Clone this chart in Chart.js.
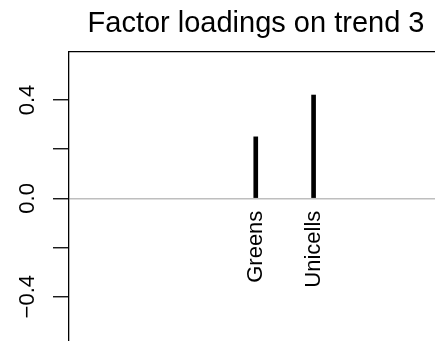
<!DOCTYPE html>
<html lang="en">
<head>
    <meta charset="UTF-8">
    <title>Factor loadings on trend 3</title>
    <style>
        html, body { margin: 0; padding: 0; background: #fff; }
        #wrap { width: 435px; height: 341px; position: relative; }
    </style>
    <script src="https://cdn.jsdelivr.net/npm/chart.js"></script>
</head>
<body>
    <div id="wrap"><canvas id="viz"></canvas></div>
    <script>
        // loadings that pass the cutoff, with their position among the series
        const names = ['Greens', 'Unicells']
        const positions = [3, 4]
        const loadings = [0.25, 0.42]

        const yTickValues = [-0.4, -0.2, 0, 0.2, 0.4]
        const yTickLabels = ['\u22120.4', '', '0.0', '', '0.4']

        const plotTitle = 'Factor loadings on trend 3'
        const fontFamily = '"Liberation Sans", Arial, Helvetica, sans-serif'

        // rotated names under the bars, rotated y labels, and the title
        const textLayer = {
            id: 'textLayer',
            afterDraw(chart) {
                const { ctx, scales: { x, y } } = chart
                ctx.save()
                ctx.fillStyle = '#000'

                ctx.font = `29px ${fontFamily}`
                ctx.textAlign = 'center'
                ctx.textBaseline = 'alphabetic'
                ctx.fillText(plotTitle, 256, 32)

                ctx.font = `22px ${fontFamily}`
                names.forEach((name, i) => {
                    ctx.save()
                    ctx.translate(x.getPixelForValue(positions[i]), y.getPixelForValue(-0.05))
                    ctx.rotate(-Math.PI / 2)
                    ctx.textAlign = 'right'
                    ctx.textBaseline = 'middle'
                    ctx.fillText(name, 0, 0)
                    ctx.restore()
                })

                yTickValues.forEach((v, i) => {
                    if (!yTickLabels[i]) return
                    ctx.save()
                    ctx.translate(33.5, y.getPixelForValue(v))
                    ctx.rotate(-Math.PI / 2)
                    ctx.textAlign = 'center'
                    ctx.textBaseline = 'alphabetic'
                    ctx.fillText(yTickLabels[i], 0, 0)
                    ctx.restore()
                })
                ctx.restore()
            }
        }

        const chart = new Chart(document.getElementById('viz'), {
            type: 'bar',
            data: {
                datasets: [{
                    data: positions.map((p, i) => ({ x: p, y: loadings[i] })),
                    backgroundColor: '#000',
                    borderWidth: 0,
                    barThickness: 4
                }]
            },
            options: {
                responsive: true,
                maintainAspectRatio: false,
                animation: false,
                events: [],
                layout: { padding: { top: 52, left: 53, right: 0, bottom: 0 } },
                plugins: {
                    legend: { display: false },
                    tooltip: { enabled: false },
                    title: { display: false }
                },
                scales: {
                    x: {
                        type: 'linear',
                        position: 'top',
                        min: -0.23,
                        max: 6.1,
                        offset: false,
                        grid: { display: false, drawTicks: false },
                        ticks: { display: false },
                        border: { display: true, color: '#000', width: 1.3 }
                    },
                    y: {
                        type: 'linear',
                        min: -0.58,
                        max: 0.595,
                        afterBuildTicks: (scale) => {
                            scale.ticks = yTickValues.map(v => ({ value: v }))
                        },
                        grid: {
                            drawOnChartArea: true,
                            drawTicks: true,
                            tickLength: 16,
                            color: (c) => (c.tick && c.tick.value === 0 ? '#bebebe' : 'rgba(0,0,0,0)'),
                            lineWidth: 1.5,
                            tickColor: '#000',
                            tickWidth: 1.3
                        },
                        ticks: { display: false },
                        border: { display: true, color: '#000', width: 1.3 }
                    }
                }
            },
            plugins: [textLayer]
        })
    </script>
</body>
</html>
